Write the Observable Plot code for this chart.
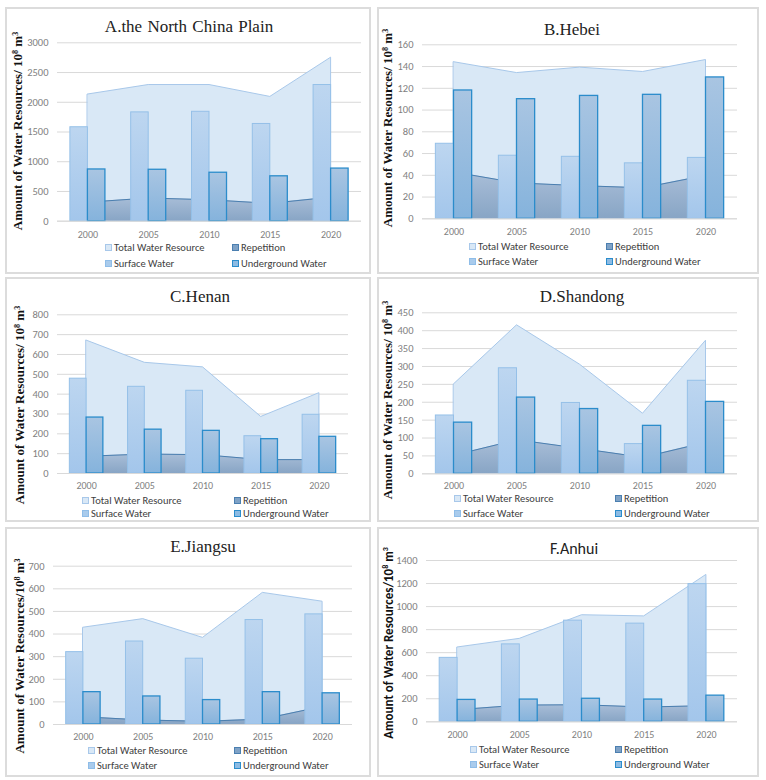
<!DOCTYPE html>
<html><head><meta charset="utf-8">
<script src="https://cdn.jsdelivr.net/npm/d3@7"></script>
<script src="https://cdn.jsdelivr.net/npm/@observablehq/plot@0.6"></script>
<style>
body{margin:0;background:#fff;}
#page{position:relative;width:766px;height:780px;overflow:hidden;background:#fff;}
.box{position:absolute;border:2px solid #dcdcdc;box-sizing:border-box;}
.title{position:absolute;transform:translate(-50%,-50%);white-space:nowrap;font-family:"Liberation Serif","Times New Roman",serif;font-size:17px;color:#222;word-spacing:1px;}
.title.sans{font-family:Carlito,Lato,sans-serif;font-size:16px;}
.ylab{position:absolute;transform:translate(-50%,-50%) rotate(-90deg);white-space:nowrap;font-family:"Liberation Serif","Times New Roman",serif;font-weight:bold;font-size:13px;color:#111;}
.ylab.sans{font-family:Carlito,Lato,sans-serif;}
.ylab sup{font-size:0.62em;vertical-align:0.5em;line-height:0;}
.leg{position:absolute;transform:translateY(-50%);white-space:nowrap;font-family:Carlito,Lato,sans-serif;font-size:10.5px;line-height:12px;color:#404040;display:flex;align-items:center;}
.sw{width:7px;height:7px;box-sizing:border-box;border:1px solid;margin-right:2px;}
svg.plotsvg{position:absolute;}
</style></head><body>
<svg width="0" height="0" style="position:absolute">
<defs>
<linearGradient id="gSur" x1="0" y1="0" x2="0" y2="1"><stop offset="0" stop-color="#bdd6f0"/><stop offset="1" stop-color="#a3c6eb"/></linearGradient>
<linearGradient id="gUnd" x1="0" y1="0" x2="0" y2="1"><stop offset="0" stop-color="#a9c5e2"/><stop offset="1" stop-color="#85b3dc"/></linearGradient>
<linearGradient id="gRep" x1="0" y1="0" x2="0" y2="1"><stop offset="0" stop-color="#a9bed8"/><stop offset="1" stop-color="#88a5c5"/></linearGradient>
</defs></svg>
<div id="page"></div>
<script>
// ---------- data ----------
const years = [2000, 2005, 2010, 2015, 2020];
const titles = ["A.the North China Plain", "B.Hebei", "C.Henan", "D.Shandong", "E.Jiangsu", "F.Anhui"];
const yLabels = [
  "Amount of Water Resources/ 10<sup>8</sup> m<sup>3</sup>",
  "Amount of Water Resources/ 10<sup>8</sup> m<sup>3</sup>",
  "Amount of Water Resources/ 10<sup>8</sup> m<sup>3</sup>",
  "Amount of Water Resources/ 10<sup>8</sup> m<sup>3</sup>",
  "Amount of Water Resources/10<sup>8</sup> m<sup>3</sup>",
  "Amount of Water Resources/10<sup>8</sup> m<sup>3</sup>"
];
const legendLabels = ["Total Water Resource", "Repetition", "Surface Water", "Underground Water"];
const yMax = [3000, 160, 800, 450, 700, 1400];
const yStep = [500, 20, 100, 50, 100, 200];

const totalA = [2130, 2290, 2290, 2090, 2750];
const surfaceA = [1580, 1830, 1840, 1635, 2290];
const underA = [870, 865, 815, 755, 885];
const repA = [320, 390, 360, 300, 405];

const totalB = [144, 134, 139, 135, 146];
const surfaceB = [69, 58, 57, 51, 56];
const underB = [118, 110, 113, 114, 130];
const repB = [43, 33, 30.5, 28.5, 40];

const totalC = [670, 558, 535, 285, 405];
const surfaceC = [478, 437, 417, 188, 296];
const underC = [282, 221, 215, 173, 185];
const repC = [87, 98, 95, 70, 70];

const totalD = [250, 415, 305, 168, 372];
const surfaceD = [163, 295, 198, 83, 260];
const underD = [143, 213, 181, 134, 201];
const repD = [52, 95, 71, 46, 88];

const totalE = [428, 466, 383, 582, 543];
const surfaceE = [320, 367, 291, 462, 487];
const underE = [143, 124, 108, 143, 138];
const repE = [34, 20, 14, 24, 80];

const totalF = [645, 720, 925, 915, 1275];
const surfaceF = [555, 672, 878, 852, 1195];
const underF = [190, 193, 200, 193, 227];
const repF = [105, 145, 148, 128, 140];

const totals = [totalA, totalB, totalC, totalD, totalE, totalF];
const surfaces = [surfaceA, surfaceB, surfaceC, surfaceD, surfaceE, surfaceF];
const unders = [underA, underB, underC, underD, underE, underF];
const reps = [repA, repB, repC, repD, repE, repF];

// ---------- layout (page pixels) ----------
const layout = [
  {box:[5,7,366,267],   fl:57,  fr:361, ft:42.3,  fb:220.7, tc:[189,27],  yl:[18,131],  lg:[247,263], sx:[105,232], xt:235},
  {box:[377,7,382,267], fl:422, fr:737, ft:44.3,  fb:218.3, tc:[572,30],  yl:[388,128], lg:[246,261], sx:[469,606], xt:232},
  {box:[5,277,366,245], fl:57,  fr:348, ft:314.3, fb:473,   tc:[200,297], yl:[20,405],  lg:[500,513], sx:[82,234],  xt:486},
  {box:[377,277,382,245],fl:422,fr:737, ft:312.3, fb:473.3, tc:[582,297], yl:[388,400], lg:[498,513], sx:[454,615], xt:486},
  {box:[5,527,366,250], fl:53,  fr:352, ft:565.7, fb:724,   tc:[203,547], yl:[20,656],  lg:[750,765], sx:[88,234],  xt:737},
  {box:[377,527,382,250],fl:426,fr:737, ft:560,   fb:721.3, tc:[574,548], yl:[388,643], lg:[749,764], sx:[470,615], xt:735}
];
const BW = 1.44; // bar width in years (of a 5-year category)
const swatch = [
  {fill:"#d9e8f6", stroke:"#a8c8ea"},
  {fill:"#7fa2c6", stroke:"#4b7fb0"},
  {fill:"#a9cbec", stroke:"#8fbde8"},
  {fill:"#8dbbe3", stroke:"#2b8ccb"}
];

const page = document.getElementById("page");

function addDiv(cls, html, style) {
  const d = document.createElement("div");
  d.className = cls;
  d.innerHTML = html;
  Object.assign(d.style, style);
  page.appendChild(d);
  return d;
}

for (let p = 0; p < 6; p++) {
  const L = layout[p];
  const [bx, by, bw, bh] = L.box;
  addDiv("box", "", {left: bx + "px", top: by + "px", width: bw + "px", height: bh + "px"});

  const rows = years.map((year, i) => ({
    year, total: totals[p][i], surface: surfaces[p][i], under: unders[p][i], rep: reps[p][i]
  }));
  const ticks = d3.range(0, yMax[p] + yStep[p] / 2, yStep[p]);
  const sans = p === 5;

  const svg = Plot.plot({
    width: bw, height: bh,
    marginLeft: L.fl - bx, marginRight: bx + bw - L.fr,
    marginTop: L.ft - by, marginBottom: by + bh - L.fb,
    style: {fontFamily: "Carlito, Lato, sans-serif", fontSize: "10.5px", background: "transparent", overflow: "visible"},
    x: {domain: [1997.5, 2022.5], axis: null},
    y: {domain: [0, yMax[p]], axis: null},
    marks: [
      Plot.gridY(ticks, {stroke: "#d9d9d9", strokeOpacity: 1, strokeWidth: 1}),
      Plot.areaY(rows, {x: "year", y: "total", fill: "#d9e8f6", stroke: "#a8c8ea", strokeWidth: 1}),
      Plot.areaY(rows, {x: "year", y: "rep", fill: "url(#gRep)"}),
      Plot.lineY(rows, {x: "year", y: "rep", stroke: "#4b7fb0", strokeWidth: 1}),
      Plot.rectY(rows, {x1: d => d.year - BW, x2: "year", y: "surface", fill: "url(#gSur)", stroke: "#95c0e8", strokeWidth: 1}),
      Plot.rectY(rows, {x1: "year", x2: d => d.year + BW, y: "under", fill: "url(#gUnd)", stroke: "#2b8ccb", strokeWidth: 1.3}),
      Plot.ruleY([0], {stroke: "#d9d9d9"}),
      Plot.axisY(ticks, {tickSize: 0, tickPadding: 9, color: "#7f7f7f", label: null, tickFormat: d => String(d)}),
      Plot.axisX(years, {tickSize: 0, tickPadding: (L.xt - L.fb) - 5, fontSize: 10, color: "#7f7f7f", label: null, tickFormat: d => String(d)})
    ]
  });
  svg.classList.add("plotsvg");
  svg.style.left = bx + "px";
  svg.style.top = by + "px";
  page.appendChild(svg);

  addDiv("title" + (sans ? " sans" : ""), titles[p], {left: L.tc[0] + "px", top: L.tc[1] + "px"});
  addDiv("ylab" + (sans ? " sans" : ""), yLabels[p], {left: L.yl[0] + "px", top: L.yl[1] + "px"});

  for (let k = 0; k < 4; k++) {
    const row = k < 2 ? 0 : 1;
    const col = k % 2;
    const item = addDiv("leg", "", {left: L.sx[col] + "px", top: (L.lg[row] + 0.5) + "px"});
    const s = document.createElement("span");
    s.className = "sw";
    s.style.background = swatch[k].fill;
    s.style.borderColor = swatch[k].stroke;
    item.appendChild(s);
    const t = document.createElement("span");
    t.textContent = legendLabels[k];
    item.appendChild(t);
  }
}
</script></body></html>
